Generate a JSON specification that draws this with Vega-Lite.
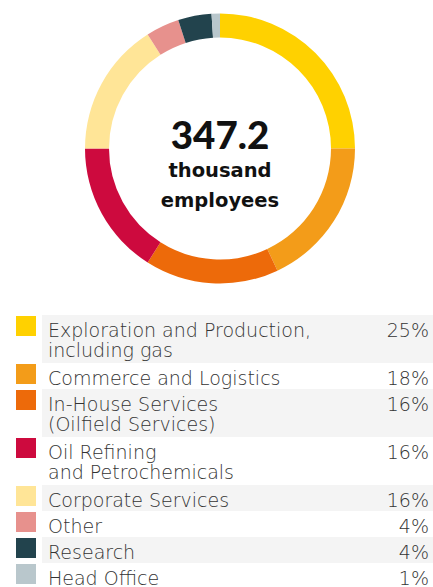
{
  "$schema": "https://vega.github.io/schema/vega-lite/v6.json",
  "padding": 0,
  "spacing": 0,
  "background": "white",
  "config": {"view": {"stroke": null}, "concat": {"spacing": 0}, "font": "Lato"},
  "datasets": {
    "d": [
      {"idx": 1, "name": "Exploration and Production, including gas", "label": ["Exploration and Production,", "including gas"], "share": 0.25},
      {"idx": 2, "name": "Commerce and Logistics", "label": ["Commerce and Logistics"], "share": 0.18},
      {"idx": 3, "name": "In-House Services (Oilfield Services)", "label": ["In-House Services", "(Oilfield Services)"], "share": 0.16},
      {"idx": 4, "name": "Oil Refining and Petrochemicals", "label": ["Oil Refining", "and Petrochemicals"], "share": 0.16},
      {"idx": 5, "name": "Corporate Services", "label": ["Corporate Services"], "share": 0.16},
      {"idx": 6, "name": "Other", "label": ["Other"], "share": 0.04},
      {"idx": 7, "name": "Research", "label": ["Research"], "share": 0.04},
      {"idx": 8, "name": "Head Office", "label": ["Head Office"], "share": 0.01}
    ]
  },
  "vconcat": [
    {
      "width": 440,
      "height": 297,
      "layer": [
        {
          "data": {"name": "d"},
          "mark": {"type": "arc", "innerRadius": 111, "outerRadius": 135},
          "encoding": {
            "theta": {"field": "share", "type": "quantitative", "stack": true},
            "order": {"field": "idx", "type": "quantitative"},
            "color": {
              "field": "name", "type": "nominal", "legend": null,
              "scale": {
                "domain": ["Exploration and Production, including gas", "Commerce and Logistics", "In-House Services (Oilfield Services)", "Oil Refining and Petrochemicals", "Corporate Services", "Other", "Research", "Head Office"],
                "range": ["#FFD100", "#F39C19", "#ED6A0A", "#CD0A3E", "#FFE597", "#E7918D", "#22434D", "#B9C7CC"]
              }
            }
          }
        },
        {
          "data": {"values": [{"total": "347.2", "unit": ["thousand", "employees"]}]},
          "layer": [
            {
              "mark": {"type": "text", "font": "Lato", "fontSize": 38.5, "fontWeight": 900, "baseline": "alphabetic", "align": "center", "color": "#111111", "dy": 0},
              "encoding": {"text": {"field": "total", "type": "nominal"}}
            },
            {
              "mark": {"type": "text", "font": "DejaVu Sans", "fontSize": 19.5, "fontWeight": 700, "baseline": "alphabetic", "align": "center", "color": "#111111", "dy": 28.5, "lineHeight": 30},
              "encoding": {"text": {"field": "unit", "type": "nominal"}}
            }
          ]
        }
      ]
    },
    {
      "hconcat": [
        {
          "width": 42,
          "height": 292,
          "data": {"name": "d"},
          "transform": [
            {"calculate": "4 + 22 * length(datum.label)", "as": "h"},
            {"window": [{"op": "sum", "field": "h", "as": "cum"}], "sort": [{"field": "idx"}], "frame": [null, 0]},
            {"calculate": "datum.cum - datum.h", "as": "top"}
          ],
          "mark": {"type": "point", "shape": "square", "filled": true, "size": 400, "opacity": 1, "xOffset": 5, "yOffset": 11},
          "encoding": {
            "y": {"field": "top", "type": "quantitative", "scale": {"domain": [-18, 274], "reverse": true}, "axis": null},
            "color": {"field": "name", "type": "nominal", "legend": null}
          }
        },
        {
          "width": 391,
          "height": 292,
          "data": {"name": "d"},
          "transform": [
            {"calculate": "4 + 22 * length(datum.label)", "as": "h"},
            {"window": [{"op": "sum", "field": "h", "as": "cum"}], "sort": [{"field": "idx"}], "frame": [null, 0]},
            {"calculate": "datum.cum - datum.h", "as": "top"}
          ],
          "layer": [
            {
              "transform": [{"filter": "datum.idx % 2 == 1"}],
              "mark": {"type": "rect", "color": "#F4F4F4"},
              "encoding": {
                "y": {"field": "top", "type": "quantitative", "scale": {"domain": [-18, 274], "reverse": true}, "axis": null},
                "y2": {"field": "cum"}
              }
            },
            {
              "mark": {"type": "text", "font": "DejaVu Sans", "align": "left", "baseline": "alphabetic", "dx": 6, "dy": 21.5, "fontSize": 19, "fontWeight": 200, "lineHeight": 20.5, "color": "#333333"},
              "encoding": {
                "x": {"datum": 0, "type": "quantitative", "scale": {"domain": [0, 1]}, "axis": null},
                "y": {"field": "top", "type": "quantitative", "scale": {"domain": [-18, 274], "reverse": true}, "axis": null},
                "text": {"field": "label", "type": "nominal"}
              }
            },
            {
              "mark": {"type": "text", "font": "DejaVu Sans", "align": "right", "baseline": "alphabetic", "dx": -4, "dy": 21.5, "fontSize": 19, "fontWeight": 200, "color": "#333333"},
              "encoding": {
                "x": {"datum": 1, "type": "quantitative", "scale": {"domain": [0, 1]}, "axis": null},
                "y": {"field": "top", "type": "quantitative", "scale": {"domain": [-18, 274], "reverse": true}, "axis": null},
                "text": {"field": "share", "type": "quantitative", "format": ".0%"}
              }
            }
          ]
        }
      ]
    }
  ]
}
